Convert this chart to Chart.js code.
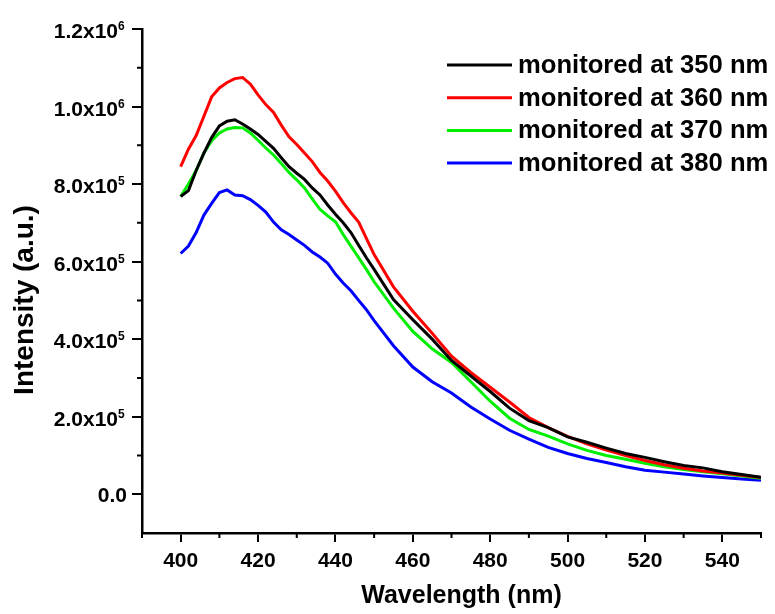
<!DOCTYPE html>
<html>
<head>
<meta charset="utf-8">
<script src="https://cdn.jsdelivr.net/npm/chart.js@4.4.0/dist/chart.umd.min.js"></script>
<style>
  html, body { margin: 0; padding: 0; background: #fff; }
  #wrap { width: 775px; height: 614px; }
</style>
</head>
<body>
<div id="wrap"><canvas id="chart" width="775" height="614"></canvas></div>
<script>
// wavelength (nm)
const wavelengths = [400, 402, 404, 406, 408, 410, 412, 414, 416, 418, 420, 422, 424, 426, 428, 430, 432, 434, 436, 438, 440, 442, 444, 446, 448, 450,
  455, 460, 465, 470, 475, 480, 485, 490, 495, 500, 505, 510, 515, 520, 525, 530, 535, 540, 545, 550];

// intensity (a.u.) for each monitoring wavelength
const at350 = [768000, 783000, 835000, 880000, 920000, 950000, 962000, 966000, 955000, 942000, 928000, 910000, 892000, 868000, 845000, 828000, 812000, 790000, 772000, 746000, 722000, 700000, 675000, 642000, 610000, 580000,
  502000, 450000, 400000, 345000, 305000, 265000, 222000, 190000, 172000, 148000, 134000, 119000, 105000, 95000, 84000, 74000, 68000, 58000, 51000, 44000];
const at360 = [845000, 890000, 925000, 975000, 1025000, 1048000, 1062000, 1072000, 1075000, 1058000, 1030000, 1005000, 985000, 952000, 922000, 902000, 880000, 858000, 830000, 808000, 782000, 752000, 726000, 702000, 660000, 618000,
  535000, 472000, 415000, 356000, 314000, 276000, 238000, 198000, 172000, 149000, 130000, 114000, 100000, 87000, 76000, 67000, 60000, 55000, 49000, 43000];
const at370 = [768000, 800000, 835000, 880000, 912000, 932000, 942000, 946000, 945000, 932000, 913000, 893000, 875000, 853000, 830000, 811000, 790000, 762000, 735000, 718000, 703000, 670000, 640000, 610000, 580000, 548000,
  480000, 420000, 375000, 340000, 290000, 240000, 196000, 167000, 150000, 130000, 113000, 100000, 90000, 80000, 71000, 64000, 58000, 53000, 47000, 41000];
const at380 = [621000, 640000, 675000, 720000, 750000, 778000, 785000, 772000, 770000, 760000, 745000, 728000, 702000, 682000, 670000, 656000, 642000, 625000, 612000, 596000, 568000, 545000, 525000, 500000, 476000, 448000,
  383000, 328000, 290000, 261000, 225000, 194000, 165000, 142000, 121000, 105000, 92000, 82000, 71000, 62000, 57000, 52000, 47000, 43000, 39000, 36000];

const seriesNames = ['monitored at 350 nm', 'monitored at 360 nm', 'monitored at 370 nm', 'monitored at 380 nm'];
const seriesColors = ['#000000', '#ff0000', '#00ee00', '#0000ff'];

// axis ticks and titles
const xTickValues = [400, 420, 440, 460, 480, 500, 520, 540];
const xMinorTicks = [390, 410, 430, 450, 470, 490, 510, 530, 550];
const yTickValues = [0, 200000, 400000, 600000, 800000, 1000000, 1200000];
const yTickMantissas = ['0.0', '2.0', '4.0', '6.0', '8.0', '1.0', '1.2'];
const yTickPowers = [null, 5, 5, 5, 5, 6, 6];
const yMinorTicks = [100000, 300000, 500000, 700000, 900000, 1100000];
const xTitle = 'Wavelength (nm)';
const yTitle = 'Intensity (a.u.)';

const FONT = '"Liberation Sans", Arial, sans-serif';

const allSeries = [at350, at360, at370, at380];
const datasets = allSeries.map((vals, i) => ({
  label: seriesNames[i],
  data: wavelengths.map((w, j) => ({ x: w, y: vals[j] })),
  borderColor: seriesColors[i],
  backgroundColor: seriesColors[i],
  borderWidth: 3,
  pointRadius: 0,
  fill: false,
  tension: 0
}));

// minor ticks, y labels with superscripts, axis titles, legend
const decor = {
  id: 'decor',
  afterDraw(chart) {
    const { ctx, scales: { x, y } } = chart;
    ctx.save();
    ctx.strokeStyle = '#000';
    ctx.lineWidth = 2;
    ctx.beginPath();
    xMinorTicks.forEach(v => {
      const px = x.getPixelForValue(v);
      ctx.moveTo(px, y.bottom);
      ctx.lineTo(px, y.bottom + 5);
    });
    yMinorTicks.forEach(v => {
      const py = y.getPixelForValue(v);
      ctx.moveTo(x.left, py);
      ctx.lineTo(x.left - 5, py);
    });
    ctx.stroke();

    ctx.fillStyle = '#000';
    yTickValues.forEach((v, i) => {
      const py = y.getPixelForValue(v);
      ctx.font = 'bold 21px ' + FONT;
      ctx.textBaseline = 'alphabetic';
      ctx.textAlign = 'right';
      if (yTickPowers[i] === null) {
        ctx.fillText(yTickMantissas[i], 127, py + 7.5);
      } else {
        ctx.fillText(yTickMantissas[i] + 'x10', 118, py + 9);
        ctx.font = 'bold 12px ' + FONT;
        ctx.textAlign = 'left';
        ctx.fillText(String(yTickPowers[i]), 118, py + 1);
      }
    });

    // axis titles
    ctx.textAlign = 'center';
    ctx.textBaseline = 'alphabetic';
    ctx.font = 'bold 25px ' + FONT;
    ctx.fillText(xTitle, (x.left + x.right) / 2 + 10, 603);
    ctx.save();
    ctx.translate(33, (y.top + y.bottom) / 2 + 19);
    ctx.rotate(-Math.PI / 2);
    ctx.font = 'bold 28px ' + FONT;
    ctx.fillText(yTitle, 0, 0);
    ctx.restore();

    // legend
    ctx.font = 'bold 25.6px ' + FONT;
    ctx.textAlign = 'left';
    ctx.textBaseline = 'middle';
    chart.data.datasets.forEach((ds, i) => {
      const ly = 65 + i * 32.7;
      ctx.strokeStyle = ds.borderColor;
      ctx.lineWidth = 3;
      ctx.beginPath();
      ctx.moveTo(447, ly);
      ctx.lineTo(512, ly);
      ctx.stroke();
      ctx.fillStyle = '#000';
      ctx.fillText(ds.label, 518, ly + 1);
    });
    ctx.restore();
  }
};

new Chart(document.getElementById('chart'), {
  type: 'line',
  data: { datasets },
  options: {
    responsive: false,
    devicePixelRatio: 1,
    animation: false,
    layout: { padding: { left: 0, top: 29, right: 14, bottom: 0 } },
    plugins: {
      legend: { display: false },
      tooltip: { enabled: false }
    },
    scales: {
      x: {
        type: 'linear',
        min: 390,
        max: 550,
        afterBuildTicks: s => { s.ticks = xTickValues.map(v => ({ value: v })); },
        afterFit: s => { s.height = 81; },
        ticks: {
          color: '#000',
          padding: 7,
          maxRotation: 0,
          font: { family: FONT, size: 21, weight: 'bold' }
        },
        grid: { display: true, drawOnChartArea: false, drawTicks: true, tickLength: 9, color: '#000', lineWidth: 2 },
        border: { display: true, color: '#000', width: 2.5 },
        title: { display: false }
      },
      y: {
        min: -100000,
        max: 1200000,
        afterBuildTicks: s => { s.ticks = yTickValues.map(v => ({ value: v })); },
        afterFit: s => { s.width = 142; },
        ticks: { display: false },
        grid: { display: true, drawOnChartArea: false, drawTicks: true, tickLength: 10, color: '#000', lineWidth: 2 },
        border: { display: true, color: '#000', width: 2.5 },
        title: { display: false }
      }
    }
  },
  plugins: [decor]
});
</script>
</body>
</html>
